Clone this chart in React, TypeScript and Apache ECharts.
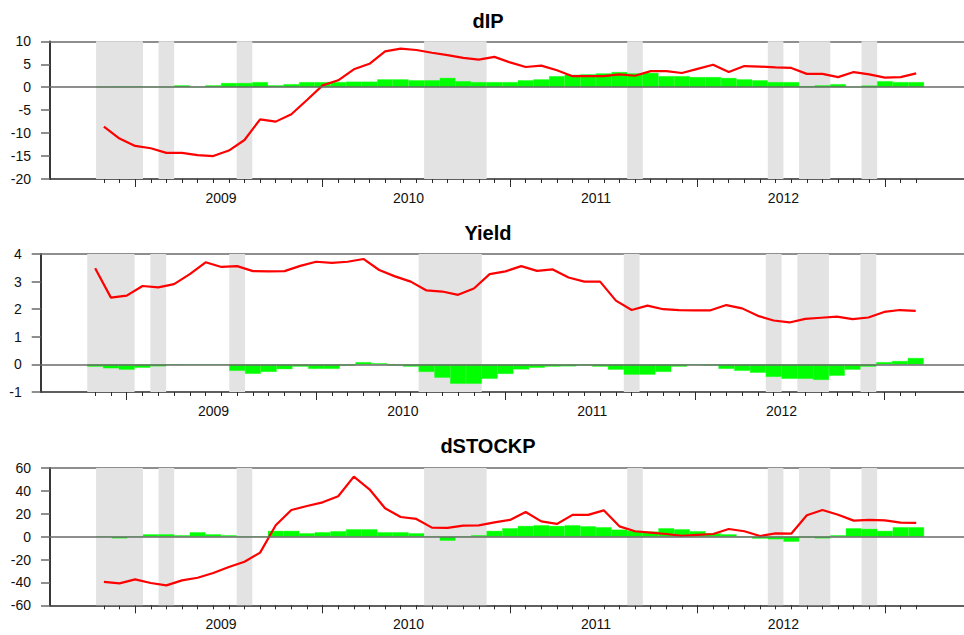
import React, { useEffect, useRef } from "react";
import * as echarts from "echarts";

// Months from 2008-11 to 2013-03, index 0 = 2009-01
const START_YEAR = 2008;
const START_MONTH = 11;
const N_MONTHS = 53;
const monthKeys: string[] = Array.from({ length: N_MONTHS }, (_, k) => {
  const t = START_MONTH - 1 + k;
  const y = START_YEAR + Math.floor(t / 12);
  const m = (t % 12) + 1;
  return `${y}-${String(m).padStart(2, "0")}`;
});
const monthIndex = (key: string) => {
  const [y, m] = key.split("-").map(Number);
  return (y - 2009) * 12 + (m - 1);
};
const monthIdx = monthKeys.map(monthIndex);

const yearLabels = ["2009", "2010", "2011", "2012"];
const yearTicks = ["2009-01", "2010-01", "2011-01", "2012-01", "2013-01"];

const shadePeriods: [string, string][] = [
  ["2008-11", "2009-01"],
  ["2009-03", "2009-03"],
  ["2009-08", "2009-08"],
  ["2010-08", "2010-11"],
  ["2011-09", "2011-09"],
  ["2012-06", "2012-06"],
  ["2012-08", "2012-09"],
  ["2012-12", "2012-12"],
];

const dipLine = [
  -8.6, -11.2, -12.8, -13.3, -14.3, -14.3, -14.8, -15.0, -13.8, -11.5, -7.0, -7.5, -5.9,
  -2.8, 0.4, 1.5, 3.9, 5.1, 7.8, 8.4, 8.1, 7.5, 7.0, 6.4, 6.0, 6.6, 5.4, 4.4, 4.7, 3.7,
  2.4, 2.4, 2.4, 2.8, 2.5, 3.5, 3.5, 3.1, 4.0, 4.9, 3.3, 4.6, 4.5, 4.3, 4.2, 2.9, 2.9,
  2.2, 3.3, 2.8, 2.1, 2.2, 3.0,
];
const dipBar = [
  0.1, 0.15, 0.15, 0.1, 0.1, 0.4, 0.1, 0.4, 0.9, 0.9, 1.1, 0.4, 0.65, 1.1, 1.1, 1.1, 1.2,
  1.2, 1.7, 1.7, 1.5, 1.5, 2.0, 1.3, 1.1, 1.1, 1.1, 1.5, 1.7, 2.4, 2.7, 2.8, 3.0, 3.3,
  3.0, 3.1, 2.4, 2.4, 2.2, 2.2, 2.0, 1.7, 1.5, 1.1, 1.1, 0.2, 0.4, 0.65, 0.1, 0.35, 1.3,
  1.1, 1.1,
];
const yieldLine = [
  3.48, 2.42, 2.49, 2.84, 2.79, 2.91, 3.27, 3.7, 3.53, 3.56, 3.38, 3.37, 3.38, 3.57, 3.72,
  3.68, 3.72, 3.82, 3.42, 3.19, 3.0, 2.68, 2.64, 2.52, 2.75, 3.27, 3.37, 3.56, 3.39, 3.44,
  3.15, 3.0, 3.0, 2.31, 1.97, 2.13, 2.0, 1.97, 1.96, 1.96, 2.15, 2.03, 1.76, 1.59, 1.52,
  1.65, 1.69, 1.73, 1.64, 1.7, 1.9, 1.97, 1.94,
];
const yieldBar = [
  -0.08, -0.14, -0.19, -0.12, -0.07, -0.02, -0.01, -0.01, -0.01, -0.23, -0.34, -0.27,
  -0.17, -0.08, -0.16, -0.16, -0.04, 0.08, 0.04, -0.04, -0.08, -0.27, -0.48, -0.7, -0.7,
  -0.52, -0.34, -0.18, -0.12, -0.08, -0.07, -0.04, -0.08, -0.19, -0.37, -0.37, -0.27,
  -0.08, -0.02, -0.04, -0.16, -0.23, -0.3, -0.45, -0.52, -0.52, -0.56, -0.41, -0.19,
  -0.08, 0.08, 0.12, 0.23,
];
const stockLine = [
  -39.6, -40.8, -37.3, -40.5, -42.6, -38.2, -35.9, -31.8, -26.5, -21.9, -14.0, 9.9, 23.3,
  26.8, 30.0, 35.3, 52.5, 41.4, 24.8, 17.2, 15.5, 7.9, 7.6, 9.6, 9.9, 12.5, 14.6, 21.6,
  13.4, 11.1, 19.0, 19.0, 23.0, 9.0, 4.7, 3.5, 2.3, 0.6, 1.5, 2.3, 6.7, 4.7, 0.6, 2.9,
  2.6, 18.7, 23.3, 19.2, 14.0, 14.6, 14.3, 12.2, 12.0,
];
const stockBar = [
  0.3, -1.5, 0.3, 2.0, 2.0, 1.2, 3.8, 2.0, 1.2, 0.3, 0.3, 5.0, 5.0, 2.9, 3.8, 4.7, 6.4,
  6.4, 3.8, 3.8, 2.9, 0.3, -3.5, 0.1, 1.2, 5.0, 7.3, 9.3, 9.9, 9.3, 9.9, 9.0, 8.2, 6.1,
  5.0, 4.4, 7.3, 6.4, 4.7, 2.9, 2.0, -0.3, -1.7, -2.3, -4.4, -0.6, -1.5, 1.2, 7.3, 6.7,
  5.0, 8.2, 8.2,
];

const panels = [
  { title: "dIP", line: dipLine, bar: dipBar, yMin: -20, yMax: 10, yInterval: 5,
    grid: { left: 50, top: 41.3, width: 914, height: 137.7 }, titleY: 20.5 },
  { title: "Yield", line: yieldLine, bar: yieldBar, yMin: -1, yMax: 4, yInterval: 1,
    grid: { left: 40.7, top: 254, width: 923.3, height: 138 }, titleY: 233 },
  { title: "dSTOCKP", line: stockLine, bar: stockBar, yMin: -60, yMax: 60, yInterval: 20,
    grid: { left: 50, top: 468, width: 914, height: 137.3 }, titleY: 446 },
];

const X_MIN = -5.45;
const X_MAX = 53.06;
const FONT = "'Liberation Sans', Arial, Helvetica, sans-serif";
const GRAY = "#6a6a6a";
const DARK = "#2a2a2a";

export default function App() {
  const ref = useRef<HTMLDivElement>(null);
  useEffect(() => {
    if (!ref.current) return;
    const chart = echarts.init(ref.current, undefined, { renderer: "svg" });
    const majorTicks = yearTicks.map(monthIndex);
    // label centred on each year: halfway between its January and December
    const yearCenters = yearLabels.map((y) => (monthIndex(`${y}-01`) + monthIndex(`${y}-12`)) / 2);

    const grids: any[] = [];
    const xAxes: any[] = [];
    const yAxes: any[] = [];
    const series: any[] = [];
    const graphics: any[] = [];

    panels.forEach((p, g) => {
      grids.push({ ...p.grid, containLabel: false });
      const base = { gridIndex: g, type: "value", min: X_MIN, max: X_MAX, splitLine: { show: false } };
      xAxes.push({
        ...base,
        position: "bottom",
        axisLine: { onZero: false, lineStyle: { color: DARK, width: 1.5 } },
        axisTick: { customValues: monthIdx, length: 4, lineStyle: { color: DARK, width: 1 } },
        axisLabel: {
          customValues: yearCenters,
          formatter: (v: number) => {
            const k = yearCenters.findIndex((c) => Math.abs(c - v) < 1e-6);
            return k >= 0 ? yearLabels[k] : "";
          },
          fontSize: 14,
          color: "#111",
          margin: 12,
          fontFamily: FONT,
        },
      });
      xAxes.push({
        ...base,
        position: "bottom",
        axisLine: { show: false, onZero: false },
        axisTick: { customValues: majorTicks, length: 8, lineStyle: { color: DARK, width: 1 } },
        axisLabel: { show: false },
      });
      xAxes.push({
        ...base,
        position: "top",
        axisLine: { onZero: false, lineStyle: { color: GRAY, width: 1.5 } },
        axisTick: { show: false },
        axisLabel: { show: false },
      });
      yAxes.push({
        gridIndex: g,
        type: "value",
        position: "left",
        min: p.yMin,
        max: p.yMax,
        interval: p.yInterval,
        axisLine: { show: true, onZero: false, lineStyle: { color: "#222", width: 1.8 } },
        axisTick: { show: true, length: 9, lineStyle: { color: GRAY, width: 1.5 } },
        axisLabel: { fontSize: 14, color: "#111", margin: 19, fontFamily: FONT },
        splitLine: { show: false },
      });
      const xi = g * 3;
      series.push({
        type: "line",
        xAxisIndex: xi,
        yAxisIndex: g,
        data: [],
        z: 1,
        silent: true,
        markArea: {
          silent: true,
          itemStyle: { color: "#e3e3e3" },
          data: shadePeriods.map(([s, e]) => [
            { xAxis: monthIndex(s) - 0.5 },
            { xAxis: monthIndex(e) + 0.5 },
          ]),
        },
      });
      series.push({
        type: "bar",
        xAxisIndex: xi,
        yAxisIndex: g,
        data: monthIdx.map((m, i) => [m, p.bar[i]]),
        barWidth: "100%",
        itemStyle: { color: "#00ff00", borderColor: "#00ff00", borderWidth: 0.3 },
        z: 2,
        silent: true,
        markLine: {
          silent: true,
          symbol: ["none", "none"],
          label: { show: false },
          lineStyle: { color: GRAY, width: 1.5, type: "solid" },
          data: [{ yAxis: 0 }],
        },
      });
      series.push({
        type: "line",
        xAxisIndex: xi,
        yAxisIndex: g,
        data: monthIdx.map((m, i) => [m, p.line[i]]),
        showSymbol: false,
        symbol: "none",
        lineStyle: { color: "#ff0000", width: 2.2 },
        z: 3,
        silent: true,
      });
      graphics.push({
        type: "text",
        x: 488,
        y: p.titleY,
        style: {
          text: p.title,
          font: `bold 20px ${FONT}`,
          fill: "#000",
          textAlign: "center",
          textVerticalAlign: "middle",
        },
      });
    });

    chart.setOption({
      animation: false,
      backgroundColor: "#fff",
      textStyle: { fontFamily: FONT },
      grid: grids,
      xAxis: xAxes,
      yAxis: yAxes,
      series,
      graphic: graphics,
    });
    return () => chart.dispose();
  }, []);
  return (
    <div
      ref={ref}
      style={{ position: "absolute", left: 0, top: 0, width: 964, height: 635 }}
    />
  );
}
